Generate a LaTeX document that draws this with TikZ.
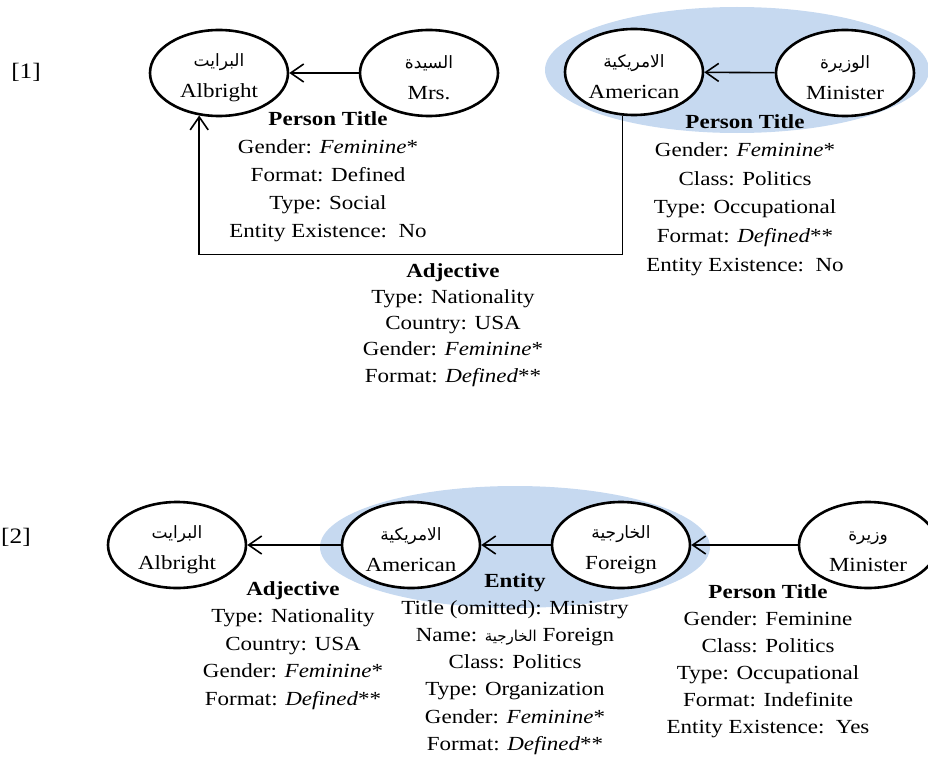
\documentclass[tikz,border=0pt]{standalone}
\usepackage{fontspec}
\setmainfont[FakeStretch=1.15]{Liberation Serif}
\newfontfamily\arfont[Script=Arabic]{DejaVu Sans}
\TeXXeTstate=1
\usetikzlibrary{shapes.geometric,arrows.meta}
\definecolor{hl}{RGB}{198,217,240}
\newcommand{\ar}[1]{\rule{0pt}{22pt}{\arfont\fontsize{17}{18}\selectfont\beginR #1\endR}}
\newcommand{\arsm}[1]{{\arfont\fontsize{15}{18}\selectfont\beginR #1\endR}}
\tikzset{
  ell/.style={ellipse, draw, line width=2.6pt, fill=white, minimum width=138pt, minimum height=86pt,
    inner sep=0pt, align=center, font=\fontsize{20}{31}\selectfont},
  hlell/.style={ellipse, fill=hl, inner sep=0pt},
  arr/.style={line width=1.6pt, -{Straight Barb[length=13pt,width=18pt,line width=1.6pt]}},
  lab/.style={align=center, anchor=north, inner sep=0pt},
  num/.style={inner sep=0pt, font=\fontsize{22}{24}\selectfont}
}
\newcommand{\fs}[1]{\fontsize{20}{#1}\selectfont}
\begin{document}
\begin{tikzpicture}[x=1pt,y=-1pt]
\useasboundingbox (0,0) rectangle (928,765);
% highlights
\node[hlell, minimum width=384pt, minimum height=126pt] (h1) at (737,70) {};
\node[hlell, minimum width=390pt, minimum height=122pt] (h2) at (515,547) {};
% labels
\node[num] (n1) at (26,72) {[1]};
\node[num, anchor=west] (n2) at (1,537) {[2]};
% row 1
\node[ell] (al1) at (219,73) {\ar{البرايت}\\Albright};
\node[ell] (mr1) at (429,73) {\ar{السيدة}\\Mrs.};
\node[ell] (am1) at (634,72) {\ar{الامريكية}\\American};
\node[ell] (mi1) at (845,73) {\ar{الوزيرة}\\Minister};
\draw[arr] (mr1) -- (al1);
\draw[arr] (mi1) -- (am1);
\draw[arr] (am1.255) -- ++(0,139) -| (al1.245);
\node[lab, font=\fs{28.2}] (pt1) at (328,111) {\textbf{Person Title}\\Gender: \textit{Feminine}*\\Format: Defined\\Type: Social\\Entity Existence:\ \ No};
\node[lab, font=\fs{26.3}] (adj1) at (453,263) {\textbf{Adjective}\\Type: Nationality\\Country: USA\\Gender: \textit{Feminine}*\\Format: \textit{Defined}**};
\node[lab, font=\fs{28.6}] (pt2) at (745,114) {\textbf{Person Title}\\Gender: \textit{Feminine}*\\Class: Politics\\Type: Occupational\\Format: \textit{Defined}**\\Entity Existence:\ \ No};
% row 2
\node[ell] (al2) at (177,545) {\ar{البرايت}\\Albright};
\node[ell] (am2) at (411,545) {\ar{الامريكية}\\American};
\node[ell] (fo2) at (621,545) {\ar{الخارجية}\\Foreign};
\node[ell] (mi2) at (868,545) {\ar{وزيرة}\\Minister};
\draw[arr] (am2) -- (al2);
\draw[arr] (fo2) -- (am2);
\draw[arr] (mi2) -- (fo2);
\node[lab, font=\fs{27.5}] (adj2) at (293,581) {\textbf{Adjective}\\Type: Nationality\\Country: USA\\Gender: \textit{Feminine}*\\Format: \textit{Defined}**};
\node[lab, font=\fs{27.2}] (ent) at (515,573) {\textbf{Entity}\\Title (omitted): Ministry\\Name: \arsm{الخارجية} Foreign\\Class: Politics\\Type: Organization\\Gender: \textit{Feminine}*\\Format: \textit{Defined}**};
\node[lab, font=\fs{27}] (pt3) at (768,584) {\textbf{Person Title}\\Gender: Feminine\\Class: Politics\\Type: Occupational\\Format: Indefinite\\Entity Existence:\ \ Yes};
\end{tikzpicture}
\end{document}
